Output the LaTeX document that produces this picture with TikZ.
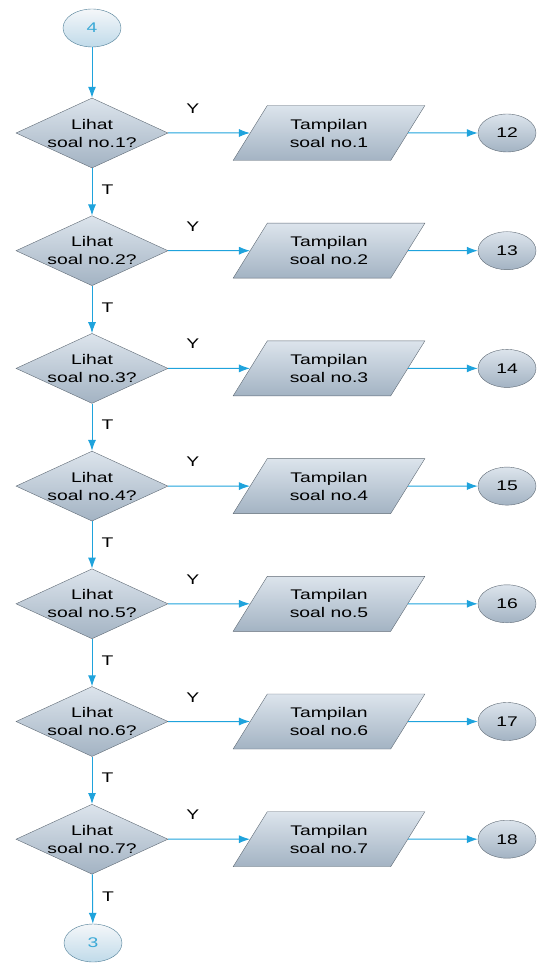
\documentclass[tikz,border=0pt]{standalone}
\usepackage{fontspec}
\setmainfont[FakeStretch=1.38]{Liberation Sans}
\usetikzlibrary{arrows.meta,shapes.geometric}

\definecolor{flowline}{HTML}{1FA3DC}
\definecolor{shapeedge}{HTML}{5F6A75}
\definecolor{shapetop}{HTML}{DCE4EC}
\definecolor{shapebot}{HTML}{A3B3C3}
\definecolor{conntext}{HTML}{3AA9D6}

\tikzset{
  flow/.style={draw=flowline, line width=1pt, -{Latex[length=11pt,width=8pt]}},
  shaded/.style={draw=shapeedge, top color=shapetop, bottom color=shapebot},
  decision/.style={shaded, diamond, aspect=2.2, minimum width=152pt,
    minimum height=70pt, inner xsep=-8pt, inner ysep=-4pt, align=center},
  display/.style={shaded, trapezium, trapezium left angle=56,
    trapezium right angle=124, trapezium stretches=true,
    minimum width=192pt, minimum height=55pt, align=center},
  jump/.style={shaded, ellipse, minimum width=58pt, minimum height=38pt},
  offpage/.style={draw=shapeedge!70!flowline, top color=white!70!shapetop,
    bottom color=shapetop!85!flowline, ellipse, minimum width=58pt,
    minimum height=38pt, text=conntext},
  lbl/.style={inner sep=0pt}
}

\begin{document}
\begin{tikzpicture}[x=1pt,y=-1pt,every node/.style={font=\fontsize{14}{18}\selectfont}]

  \useasboundingbox (0,0) rectangle (547,965);

  % Start and end connectors
  \node[offpage] (c4) at (92,28) {4};
  \node[offpage] (c3) at (93,943) {3};

  % One row per question
  \foreach \i in {1,...,7} {
    \pgfmathsetmacro{\yy}{133+117.7*(\i-1)}
    \pgfmathtruncatemacro{\num}{11+\i}
    \node[decision] (d\i) at (92,\yy) {Lihat\\soal no.\i?};
    \node[display] (p\i) at (329,\yy) {Tampilan\\soal no.\i};
    \node[jump] (j\i) at (507,\yy) {\num};
    \draw[flow] (d\i.east) -- (p\i) node[lbl, pos=0.3, above=19pt, text=black] {Y};
    \draw[flow] (p\i) -- (j\i);
  }

  % Down the column
  \draw[flow] (c4) -- (d1);
  \foreach \i in {1,...,6} {
    \pgfmathtruncatemacro{\nxt}{\i+1}
    \draw[flow] (d\i) -- (d\nxt) node[lbl, pos=0.45, right=9pt, text=black] {T};
  }
  \draw[flow] (d7) -- (c3) node[lbl, pos=0.45, right=9pt, text=black] {T};

\end{tikzpicture}
\end{document}
